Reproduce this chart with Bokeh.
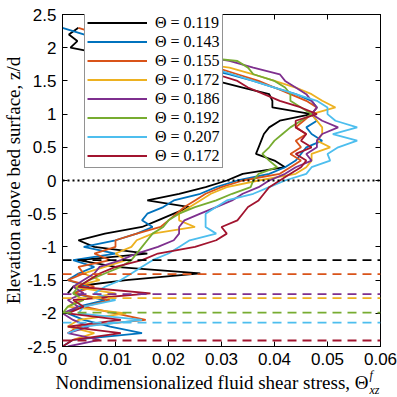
import numpy as np
from bokeh.plotting import figure
from bokeh.models import (Span, Label, LinearAxis, FixedTicker, Range1d, Legend,
                          LegendItem, CustomJSTickFormatter)
from bokeh.embed import file_html
from bokeh.resources import INLINE

nan = np.nan

# elevation levels z/d (top to bottom)
z_levels = [2.3, 2.2, 2.1, 2.0, 1.9, 1.8, 1.7, 1.6, 1.5, 1.4,
            1.3, 1.2, 1.1, 1.0, 0.9, 0.8, 0.7, 0.6, 0.5, 0.4,
            0.3, 0.2, 0.1, 0.0, -0.1, -0.2, -0.3, -0.4, -0.5, -0.6,
            -0.7, -0.8, -0.9, -1.0, -1.1, -1.2, -1.3, -1.4, -1.5, -1.6,
            -1.7, -1.8, -1.9, -2.0, -2.1, -2.2, -2.3, -2.4, -2.5]

labels = ["Θ = 0.119", "Θ = 0.143", "Θ = 0.155", "Θ = 0.172",
          "Θ = 0.186", "Θ = 0.192", "Θ = 0.207", "Θ = 0.172"]
colors = ["#000000", "#0072BD", "#D95319", "#EDB120",
          "#7E2F8E", "#77AC30", "#4DBEEE", "#A2142F"]

stress_0119 = [0.003, 0.0012, 0.0028, 0.0015, 0.008, 0.014, 0.019, 0.024, 0.029, 0.034,
               0.039, 0.0396, 0.0396, 0.047, 0.041, 0.039, 0.038, 0.0375, 0.037, 0.0365,
               0.040, 0.042, 0.034, 0.031, 0.027, 0.022, 0.016, 0.024, 0.021, 0.018,
               0.015, 0.008, 0.003, 0.006, 0.016, 0.003, 0.010, 0.026, 0.012, 0.002,
               0.001]
stress_0143 = [0.0, 0.004, 0.008, 0.012, 0.016, 0.021, 0.026, 0.0315, 0.036, 0.040,
               0.044, 0.047, 0.048, 0.047, 0.048, 0.046, 0.047, 0.049, 0.046, 0.045,
               0.044, 0.042, 0.039, 0.033, 0.029, 0.026, 0.021, 0.019, 0.016, 0.015,
               0.017, 0.014, 0.010, 0.004, 0.010, 0.002, 0.006, 0.003, 0.001, 0.005,
               0.002, 0.008, 0.003, 0.001, 0.004, 0.009, 0.015, 0.002, 0.0]
stress_0155 = [0.003, 0.007, 0.011, 0.015, 0.019, 0.024, 0.029, 0.033, 0.037, 0.040,
               0.043, 0.046, 0.048, 0.047, 0.0455, 0.044, 0.046, 0.044, 0.045, 0.043,
               0.045, 0.043, 0.041, 0.034, 0.030, 0.027, 0.025, 0.023, 0.0215, 0.020,
               0.0185, 0.014, 0.010, 0.010, 0.006, 0.009, 0.003, 0.004, 0.001, 0.006,
               0.002, 0.009, 0.004, 0.010, 0.0157, 0.003, 0.001]
stress_0172 = [nan, nan, 0.008, 0.012, 0.017, 0.022, 0.0315, 0.036, 0.040, 0.044,
               0.047, 0.049, 0.0515, 0.047, 0.048, 0.049, 0.049, 0.048, 0.0505, 0.047,
               0.047, 0.046, 0.044, 0.037, 0.031, 0.028, 0.026, 0.024, 0.022, 0.022,
               0.025, 0.017, 0.014, 0.013, 0.010, 0.012, 0.008, 0.004, 0.007, 0.002,
               0.010, 0.003, 0.001, 0.012, 0.003, 0.001, 0.006, 0.002]
stress_0186 = [nan, nan, 0.010, 0.016, 0.024, 0.0315, 0.036, 0.041, 0.042, 0.044,
               0.046, 0.047, 0.048, 0.047, 0.049, 0.052, 0.049, 0.048, 0.048, 0.046,
               0.047, 0.044, 0.042, 0.039, 0.037, 0.034, 0.032, 0.029, 0.026, 0.023,
               0.022, 0.022, 0.021, 0.018, 0.014, 0.011, 0.007, 0.006, 0.004, 0.002,
               0.004, 0.001, 0.003, 0.000, 0.002, 0.005, 0.001, 0.007, 0.001]
stress_0192 = [nan, nan, 0.008, 0.014, 0.021, 0.033, 0.035, 0.036, 0.040, 0.042,
               0.043, 0.043, 0.045, 0.047, 0.045, 0.043, 0.0415, 0.040, 0.039, 0.0377,
               0.039, 0.0405, 0.037, 0.036, 0.0355, 0.032, 0.029, 0.025, 0.022, 0.020,
               0.019, 0.017, 0.016, 0.015, 0.014, 0.013, 0.011, 0.008, 0.005, 0.003,
               0.002, 0.004, 0.001, 0.000]
stress_0207 = [nan, nan, 0.007, 0.012, 0.018, 0.023, 0.028, 0.032, 0.036, 0.040,
               0.044, 0.048, 0.050, 0.050, 0.0515, 0.0556, 0.051, 0.0556, 0.052, 0.050,
               0.0505, 0.047, 0.046, 0.042, 0.039, 0.036, 0.031, 0.029, 0.027, 0.027,
               0.027, 0.029, 0.024, 0.022, 0.020, 0.017, 0.015, 0.013, 0.011, 0.008,
               0.006, 0.010, 0.004, 0.003, 0.015, 0.004, 0.001]
stress_0172b = [nan, nan, 0.006, 0.010, 0.015, 0.020, 0.025, 0.029, 0.033, 0.035,
                0.038, 0.041, 0.045, 0.048, 0.044, 0.044, 0.046, 0.045, 0.047, 0.044,
                0.046, 0.045, 0.043, 0.041, 0.039, 0.038, 0.037, 0.035, 0.034, 0.033,
                0.030, 0.031, 0.029, 0.025, 0.018, 0.015, 0.010, 0.007, 0.005, 0.003,
                0.0166, 0.002, 0.004, 0.001, 0.011, 0.001, 0.011, 0.002, 0.000]

series = [stress_0119, stress_0143, stress_0155, stress_0172,
          stress_0186, stress_0192, stress_0207, stress_0172b]

# bed surface levels (dashed), per run
bed_levels = [-1.20, -1.41, -1.77, -1.71, -1.99, -2.14, -2.41]
bed_colors = ["#000000", "#D95319", "#EDB120", "#7E2F8E", "#77AC30", "#4DBEEE", "#A2142F"]

x_ticks = [0, 0.01, 0.02, 0.03, 0.04, 0.05, 0.06]
x_tick_labels = ["0", "0.01", "0.02", "0.03", "0.04", "0.05", "0.06"]
y_ticks = [-2.5, -2.0, -1.5, -1.0, -0.5, 0.0, 0.5, 1.0, 1.5, 2.0, 2.5]
y_tick_labels = ["-2.5", "-2", "-1.5", "-1", "-0.5", "0", "0.5", "1", "1.5", "2", "2.5"]

x_title = "Nondimensionalized fluid shear stress, Θ"
x_title_sup = "f"
x_title_sub = "xz"
y_title = "Elevation above bed surface, z/d"

serif = "Liberation Serif"

p = figure(width=397, height=397, output_backend="svg", toolbar_location=None,
           x_range=Range1d(0, 0.06), y_range=Range1d(-2.5, 2.5),
           min_border_left=62, min_border_right=17, min_border_top=12, min_border_bottom=51)
p.xgrid.visible = False
p.ygrid.visible = False
p.outline_line_color = "black"
p.outline_line_width = 1
p.background_fill_color = "white"
p.border_fill_color = "white"

renderers = []
for xs, col in zip(series, colors):
    r = p.line(x=xs, y=z_levels[:len(xs)], line_color=col, line_width=1.8)
    renderers.append(r)

for lev, col in zip(bed_levels, bed_colors):
    p.add_layout(Span(location=lev, dimension="width", line_color=col,
                      line_dash="9 6", line_width=1.8))
p.add_layout(Span(location=0, dimension="width", line_color="black",
                  line_dash="2 3", line_width=1.8))

xt = FixedTicker(ticks=x_ticks)
yt = FixedTicker(ticks=y_ticks)

def style_axis(ax, show_labels=True):
    ax.axis_line_color = "black"
    ax.major_tick_in = 5
    ax.major_tick_out = 0
    ax.minor_tick_line_color = None
    ax.major_tick_line_color = "black"
    if show_labels:
        ax.major_label_text_font = "Liberation Sans"
        ax.major_label_text_font_size = "17px"
        ax.major_label_text_color = "black"
        ax.major_label_standoff = 6
    else:
        ax.formatter = CustomJSTickFormatter(code="return ''")
        ax.major_label_standoff = 0

p.xaxis.ticker = xt
p.yaxis.ticker = yt
p.xaxis.major_label_overrides = {t: s for t, s in zip(x_ticks, x_tick_labels)}
p.yaxis.major_label_overrides = {t: s for t, s in zip(y_ticks, y_tick_labels)}
style_axis(p.xaxis[0])
style_axis(p.yaxis[0])

p.yaxis.axis_label = y_title
p.yaxis.axis_label_text_font = serif
p.yaxis.axis_label_text_font_size = "19px"
p.yaxis.axis_label_text_font_style = "normal"
p.yaxis.axis_label_text_color = "black"
p.yaxis.axis_label_standoff = 0

ax_r = LinearAxis(ticker=yt)
style_axis(ax_r, False)
p.add_layout(ax_r, "right")
ax_t = LinearAxis(ticker=xt)
style_axis(ax_t, False)
p.add_layout(ax_t, "above")

# x-axis title: main text in the lower panel, superscript / subscript in the
# upper / right panels (canvas units, so only their panel size matters)
p.add_layout(Label(x=368, y=382, x_units="canvas", y_units="canvas", text=x_title,
                   text_font=serif, text_font_size="19px", text_color="black",
                   text_align="right", text_baseline="middle"), "below")
p.add_layout(Label(x=369, y=374, x_units="canvas", y_units="canvas", text=x_title_sup,
                   text_font=serif, text_font_style="italic", text_font_size="12px",
                   text_color="black", text_align="left", text_baseline="middle"), "above")
p.add_layout(Label(x=369, y=389, x_units="canvas", y_units="canvas", text=x_title_sub,
                   text_font=serif, text_font_style="italic", text_font_size="12px",
                   text_color="black", text_align="left", text_baseline="middle"), "right")

# legend
items = [LegendItem(label=lab, renderers=[r]) for lab, r in zip(labels, renderers)]
lg = Legend(items=items, location=(22, 178))
lg.label_text_font = serif
lg.label_text_font_size = "16px"
lg.label_text_color = "black"
lg.glyph_width = 60
lg.glyph_height = 19
lg.label_height = 19
lg.label_standoff = 8
lg.padding = 2
lg.spacing = 0
lg.margin = 0
lg.border_line_color = "#262626"
lg.border_line_width = 1
lg.background_fill_color = "white"
lg.background_fill_alpha = 1.0
p.add_layout(lg, "center")

open("out.html", "w").write(file_html(p, INLINE))
